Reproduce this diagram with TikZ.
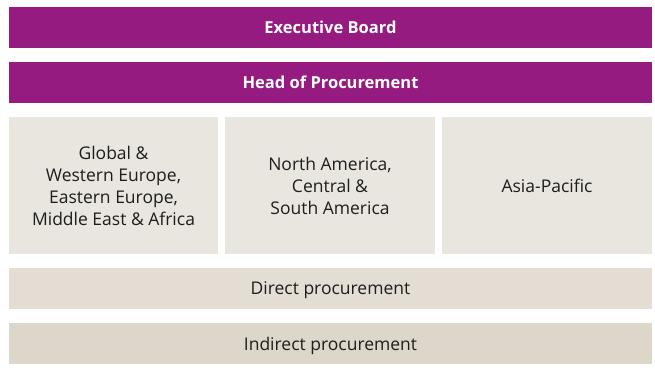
\documentclass[tikz,border=0pt]{standalone}
\usepackage{fontspec}
\setmainfont{Open Sans}
\definecolor{purp}{HTML}{961B80}
\definecolor{regbg}{HTML}{E9E5DF}
\definecolor{dirbg}{HTML}{E3DDD3}
\definecolor{indbg}{HTML}{DDD6CA}
\definecolor{txt}{HTML}{1E1E1E}
\begin{document}
\begin{tikzpicture}[x=1pt,y=-1pt,
  boxbase/.style={inner sep=0pt, outer sep=0pt, minimum width=643pt, minimum height=41pt, font=\fontsize{17.5}{22}\selectfont, align=center},
  topbox/.style={boxbase, fill=purp, text=white, font=\fontsize{16.5}{22}\selectfont\bfseries},
  regbox/.style={inner sep=0pt, outer sep=0pt, fill=regbg, text=txt, minimum width=209pt, minimum height=137pt, align=center, font=\fontsize{17.5}{22}\selectfont},
  lowbox/.style={boxbase, text=txt, text depth=0pt}]
\useasboundingbox (0,0) rectangle (655,383);
\fill[white] (0,0) rectangle (655,383);
\node[topbox, anchor=north west] (eb) at (9,7) {Executive Board};
\node[topbox, anchor=north west] (hp) at (9,62) {Head of Procurement};
\node[regbox, anchor=north west] (r1) at (9,117) {Global \&\\Western Europe,\\Eastern Europe,\\Middle East \& Africa};
\node[regbox, anchor=north west, minimum width=210pt] (r2) at (225,117) {North America,\\Central \&\\South America};
\node[regbox, anchor=north west, minimum width=210pt] (r3) at (442,117) {Asia-Pacific};
\node[lowbox, fill=dirbg, anchor=north west] (dp) at (9,268) {Direct procurement};
\node[lowbox, fill=indbg, anchor=north west] (ip) at (9,323) {Indirect procurement};
\end{tikzpicture}
\end{document}
